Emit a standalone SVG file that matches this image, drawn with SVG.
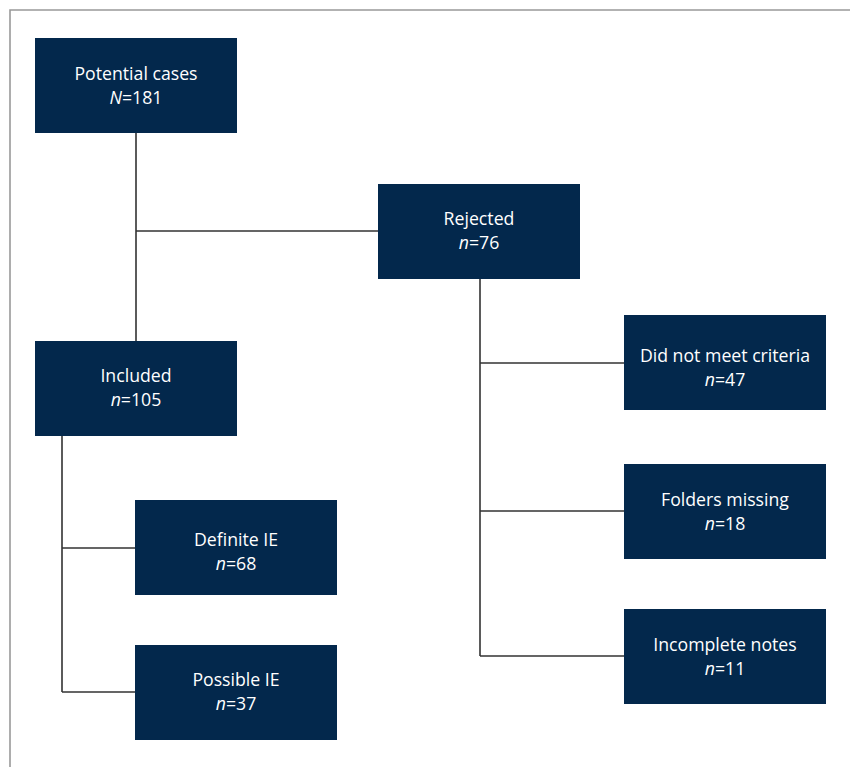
<svg xmlns="http://www.w3.org/2000/svg" width="850" height="767" viewBox="0 0 850 767">
<style>
.box{fill:#03284c}
.t{font-family:"Open Sans","Liberation Sans",sans-serif;font-size:17.7px;fill:#fff;text-anchor:middle}
.c{stroke:#333;stroke-width:1.6;fill:none}
.frame{stroke:#999;stroke-width:1.6;fill:none}
</style>
<rect width="850" height="767" fill="#fff"/>
<path class="frame" d="M10,767 V10 H850"/>
<g id="connectors">
<path class="c" d="M136,133 V341 M136,231 H378"/>
<path class="c" d="M480,279 V656 M480,363 H624 M480,511 H624 M480,656 H624"/>
<path class="c" d="M62,436 V692 M62,548 H135 M62,692 H135"/>
</g>
<g id="potential"><rect class="box" x="35" y="38" width="202" height="95"/><text class="t" x="136" y="80">Potential cases</text><text class="t" x="136" y="104"><tspan font-style="italic">N</tspan>=181</text></g>
<g id="rejected"><rect class="box" x="378" y="184" width="202" height="95"/><text class="t" x="479" y="225">Rejected</text><text class="t" x="479" y="249"><tspan font-style="italic">n</tspan>=76</text></g>
<g id="included"><rect class="box" x="35" y="341" width="202" height="95"/><text class="t" x="136" y="382">Included</text><text class="t" x="136" y="406"><tspan font-style="italic">n</tspan>=105</text></g>
<g id="definite"><rect class="box" x="135" y="500" width="202" height="95"/><text class="t" x="236" y="546">Definite IE</text><text class="t" x="236" y="570"><tspan font-style="italic">n</tspan>=68</text></g>
<g id="possible"><rect class="box" x="135" y="645" width="202" height="95"/><text class="t" x="236" y="686">Possible IE</text><text class="t" x="236" y="710"><tspan font-style="italic">n</tspan>=37</text></g>
<g id="criteria"><rect class="box" x="624" y="315" width="202" height="95"/><text class="t" x="725" y="362">Did not meet criteria</text><text class="t" x="725" y="386"><tspan font-style="italic">n</tspan>=47</text></g>
<g id="folders"><rect class="box" x="624" y="464" width="202" height="95"/><text class="t" x="725" y="506">Folders missing</text><text class="t" x="725" y="530"><tspan font-style="italic">n</tspan>=18</text></g>
<g id="incomplete"><rect class="box" x="624" y="609" width="202" height="95"/><text class="t" x="725" y="651">Incomplete notes</text><text class="t" x="725" y="675"><tspan font-style="italic">n</tspan>=11</text></g>
</svg>
